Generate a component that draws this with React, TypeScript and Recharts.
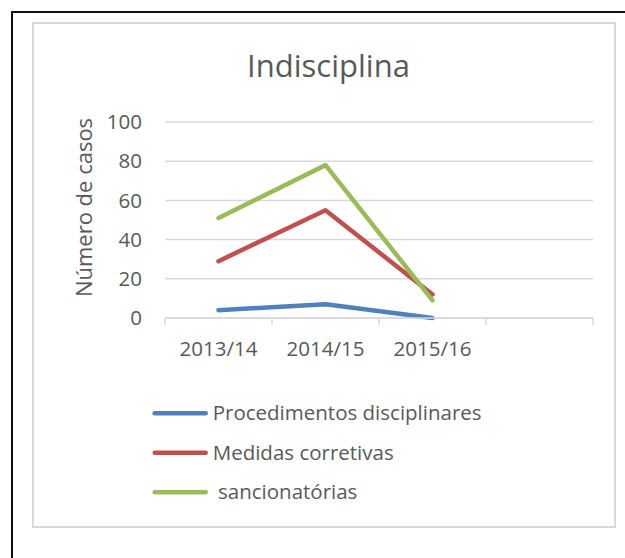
import React from 'react';
import { LineChart, Line, XAxis, YAxis, CartesianGrid, Legend } from 'recharts';

const categories = ['2013/14', '2014/15', '2015/16', ''];
const procedimentos = [4, 7, 0, null];
const medidas = [29, 55, 12, null];
const sancionatorias = [51, 78, 9, null];
const yTicks = [0, 20, 40, 60, 80, 100];

const seriesNames = ['Procedimentos disciplinares', 'Medidas corretivas', ' sancionatórias'];
const seriesKeys = ['p', 'm', 's'];
const seriesColors = ['#4F81BD', '#C0504D', '#9BBB59'];

const title = 'Indisciplina';
const yLabel = 'Número de casos';

const FONT = '"Open Sans", sans-serif';
const TEXT = '#595959';
const GRID = '#d9d9d9';
const X_TICK_MARGIN = 23;

const data = categories.map((c, i) => ({
  cat: c,
  p: procedimentos[i],
  m: medidas[i],
  s: sancionatorias[i],
}));

const renderLegend = (props: any) => {
  const payload = [...(props.payload || [])].sort(
    (a: any, b: any) => seriesNames.indexOf(a.value) - seriesNames.indexOf(b.value)
  );
  return (
    <svg width={420} height={120} style={{ overflow: 'visible', display: 'block' }}>
      {payload.map((e: any, i: number) => {
        const y = 20.3 + i * 39.5;
        return (
          <g key={i}>
            <line x1={4.7} x2={55.7} y1={y} y2={y} stroke={e.color} strokeWidth={4.5} strokeLinecap="round" />
            <text
              x={62.7}
              y={y + 7}
              fill={TEXT}
              fontSize={20.5}
              fontFamily={FONT}
              style={{ whiteSpace: 'pre' }}
            >
              {e.value}
            </text>
          </g>
        );
      })}
    </svg>
  );
};

const CategoryTick = (props: any) => {
  const { x, y, payload, index, visibleTicksCount } = props;
  const half = payload && typeof payload.offset === 'number' ? payload.offset : 0;
  const axisY = y - X_TICK_MARGIN;
  const isLast = index === (visibleTicksCount ?? categories.length) - 1;
  return (
    <g>
      {half > 0 && (
        <line x1={x - half} x2={x - half} y1={axisY} y2={axisY + 7} stroke={GRID} strokeWidth={1.5} />
      )}
      {half > 0 && isLast && (
        <line x1={x + half} x2={x + half} y1={axisY} y2={axisY + 7} stroke={GRID} strokeWidth={1.5} />
      )}
      <text x={x} y={y} dy="0.71em" textAnchor="middle" fill={TEXT} fontSize={20.5} fontFamily={FONT}>
        {payload.value}
      </text>
    </g>
  );
};

const renderYLabel = (props: any) => {
  const vb = props.viewBox || { x: 85, y: 122, width: 80, height: 196 };
  const x = vb.x + 6.5;
  const y = vb.y + vb.height / 2 - 12.5;
  return (
    <text
      x={x}
      y={y}
      textAnchor="middle"
      transform={`rotate(-90, ${x}, ${y})`}
      fill={TEXT}
      fontSize={22}
      fontFamily={FONT}
    >
      {yLabel}
    </text>
  );
};

export default function App() {
  return (
    <div style={{ position: 'absolute', left: 0, top: 0, width: 625, height: 558, background: '#fff', overflow: 'hidden' }}>
      <div
        style={{
          position: 'absolute',
          left: 11,
          top: 11,
          width: 614,
          height: 547,
          borderTop: '2px solid #111',
          borderLeft: '2px solid #111',
          boxSizing: 'border-box',
        }}
      />
      <div
        style={{
          position: 'absolute',
          left: 32,
          top: 22,
          width: 584,
          height: 506,
          border: `2px solid ${GRID}`,
          boxSizing: 'border-box',
        }}
      />
      <svg style={{ position: 'absolute', left: 0, top: 0 }} width={625} height={558}>
        <text x={328.5} y={76.7} textAnchor="middle" fill={TEXT} fontSize={31} fontFamily={FONT}>
          {title}
        </text>
      </svg>
      <div style={{ position: 'absolute', left: 0, top: 0 }}>
        <LineChart
          width={625}
          height={558}
          data={data}
          margin={{ top: 122, right: 32, bottom: 200, left: 85 }}
          style={{ fontFamily: FONT }}
        >
          <CartesianGrid horizontal={true} vertical={false} stroke={GRID} strokeWidth={1.5} />
          <XAxis
            dataKey="cat"
            scale="band"
            interval={0}
            tickLine={false}
            axisLine={{ stroke: GRID, strokeWidth: 1.5 }}
            tickSize={0}
            tickMargin={X_TICK_MARGIN}
            height={40}
            tick={<CategoryTick />}
          />
          <YAxis
            domain={[0, 100]}
            ticks={yTicks}
            width={80}
            axisLine={false}
            tickLine={false}
            tickSize={0}
            tickMargin={23}
            tick={{ fill: TEXT, fontSize: 20.5, fontFamily: FONT }}
            label={renderYLabel}
          />
          {seriesKeys.map((k, i) => (
            <Line
              key={k}
              dataKey={k}
              name={seriesNames[i]}
              stroke={seriesColors[i]}
              strokeWidth={4.5}
              strokeLinecap="round"
              strokeLinejoin="round"
              dot={false}
              activeDot={false}
              isAnimationActive={false}
            />
          ))}
          <Legend
            layout="vertical"
            align="center"
            verticalAlign="middle"
            content={renderLegend}
            wrapperStyle={{ position: 'absolute', left: 150, top: 393, width: 420, height: 120 }}
          />
        </LineChart>
      </div>
    </div>
  );
}
